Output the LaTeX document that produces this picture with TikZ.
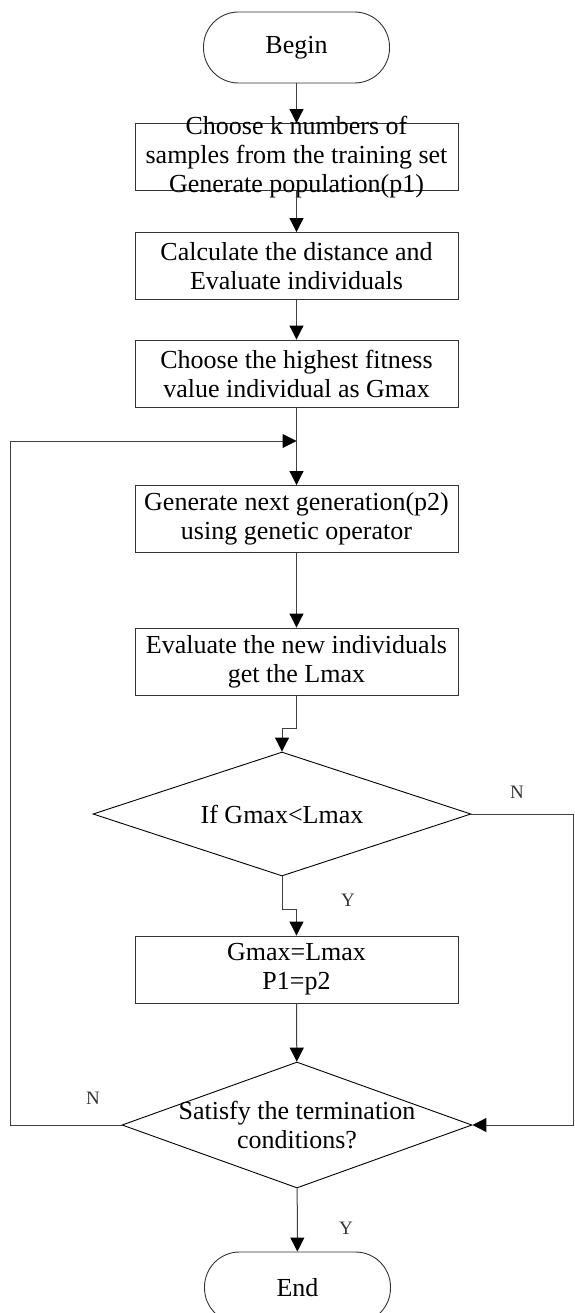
\documentclass[tikz,border=0pt]{standalone}
\usepackage{fontspec}
\setmainfont{Liberation Serif}
\usetikzlibrary{shapes.geometric,arrows.meta}

\def\txtfont{\fontsize{26}{29}\selectfont}

\tikzset{
  process/.style={draw=black!80, line width=0.9pt, minimum width=323pt, minimum height=67pt,
    inner sep=0pt, align=center, font=\txtfont},
  terminal/.style={draw=black!80, line width=0.9pt, rounded corners=35pt,
    minimum width=186pt, minimum height=71pt, font=\txtfont},
  decision/.style={diamond, draw=black, line width=0.9pt, inner sep=0pt},
  flow/.style={draw=black!75, line width=1pt, -{Triangle[length=14pt,width=14pt,color=black]}},
  yn/.style={font=\fontsize{19}{19}\selectfont, text=black!80},
}

\begin{document}
\begin{tikzpicture}[x=1pt, y=1pt]
  \useasboundingbox (0,0) rectangle (574,-1313);

  % boxes
  \node[terminal] (begin) at (296.5,-47.5) {Begin};
  \node[process, label={[font=\txtfont, align=center]center:{Choose k numbers of\\samples from the training set\\Generate population(p1)}}] (choose) at (296.5,-157) {};
  \node[process] (calc) at (296.5,-266) {Calculate the distance and\\Evaluate individuals};
  \node[process] (best) at (296.5,-373.5) {Choose the highest fitness\\value individual as Gmax};
  \node[process] (next) at (296.5,-519) {Generate next generation(p2)\\using genetic operator};
  \node[process] (eval) at (296.5,-661.5) {Evaluate the new individuals\\get the Lmax};
  \node[decision, minimum width=378pt, minimum height=124pt,
    label={[font=\txtfont]center:If Gmax<Lmax}] (test) at (282,-814) {};
  \node[process] (update) at (296.5,-969.5) {Gmax=Lmax\\P1=p2};
  \node[decision, minimum width=350pt, minimum height=126pt,
    label={[font=\txtfont, align=center]center:{Satisfy the termination\\conditions?}}] (term) at (297,-1125) {};
  \node[terminal] (end) at (297.5,-1287.5) {End};

  % rails of the two loops
  \coordinate (merge) at (296.5,-441);
  \coordinate (lrail) at (10,-1125);
  \coordinate (rrail) at (573,-814);

  % connectors
  \draw[flow] (begin) -- (choose);
  \draw[flow] (choose) -- (calc);
  \draw[flow] (calc) -- (best);
  \draw[flow] (best) -- (next);
  \draw[flow] (next) -- (eval);
  \draw[flow] (eval.south) -- ++(0,-33) -| (test.north);
  \draw[flow] (test.south) -- ++(0,-33) -| (update.north);
  \draw[flow] (update) -- (term);
  \draw[flow] (term) -- (end);
  \draw[flow] (term.west) -- (lrail) |- (merge);
  \draw[flow] (test.east) -- (rrail) |- (term.east);

  % branch labels
  \node[yn] (n1) at (517,-792) {N};
  \node[yn] (y1) at (348,-900) {Y};
  \node[yn] (n2) at (93,-1098) {N};
  \node[yn] (y2) at (346,-1228) {Y};
\end{tikzpicture}
\end{document}
